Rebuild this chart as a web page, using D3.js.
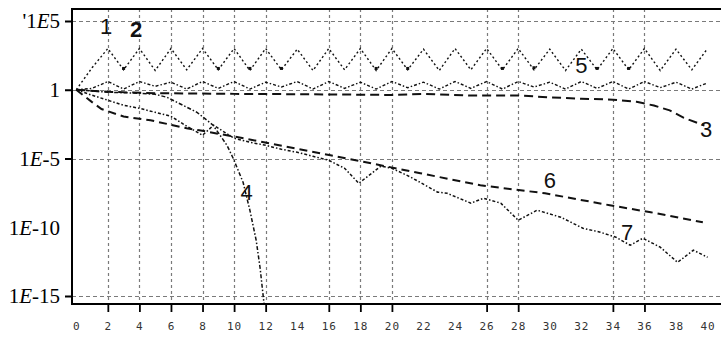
<!DOCTYPE html>
<html><head><meta charset="utf-8">
<script src="https://cdn.jsdelivr.net/npm/d3@7"></script>
<style>
body{margin:0;background:#fff}
svg{display:block}
</style>
</head><body>
<svg id="chart" width="721" height="338"></svg>
<script>
// ---------------- data ----------------
const xTickLabels = [0,2,4,6,8,10,12,14,16,18,20,22,24,26,28,30,32,34,36,38,40];
const xGridTicks  = [2,4,6,8,10,12,16,18,20,26,28,34,36];
const yTickValues = [1e5, 1, 1e-5, 1e-10, 1e-15];
const yTickLabels = ["'1E5", "1", "1E-5", "1E-10", "1E-15"];
const yGridTicks  = [1e5, 1, 1e-5, 1e-15];

// series: x (step) and log10 of value
const zigX   = [0,1,2,3,4,5,6,7,8,9,10,11,12,13,14,15,16,17,18,19,20,21,22,23,24,25,26,27,28,29,30,31,32,33,34,35,36,37,38,39,40];
const zigExp = [0,1.6,3.0,1.45,3.0,1.4,3.0,1.45,3.0,1.45,3.0,1.4,3.0,1.45,2.95,1.4,3.0,1.45,3.0,1.4,3.0,1.45,2.95,1.4,3.0,1.45,3.0,1.45,3.0,1.45,2.95,1.4,2.95,1.45,3.0,1.45,3.0,1.4,2.95,1.45,3.0];
const markX   = [3,9,11,13,19,21,27,29,33,35];
const markExp = [1.55,1.55,1.55,1.55,1.55,1.55,1.55,1.6,1.55,1.55];

const c2X   = zigX;
const c2Exp = [0,0.1,0.6,0.05,0.6,0.25,0.55,0.05,0.6,0.1,0.6,0.05,0.55,0.2,0.6,0.05,0.6,0.1,0.55,0.05,0.6,0.15,0.55,0.05,0.6,0.1,0.6,0.05,0.6,0.2,0.55,0.05,0.6,0.1,0.6,0.05,0.6,0.15,0.55,0.05,0.5];

const c3X   = [0,2,5,10,15,20,22,25,28,30,32,34,35.5,36.6,37.6,38.5,39.8];
const c3Exp = [0,-0.15,-0.25,-0.3,-0.33,-0.38,-0.3,-0.42,-0.42,-0.55,-0.65,-0.72,-0.88,-1.15,-1.5,-2.05,-2.6];

const c4X   = [0,2,3.9,5,5.75,7.65,8.67,9.55,9.94,10.57,11.0,11.4,11.65,11.9];
const c4Exp = [0,-0.18,-0.25,-0.33,-0.55,-1.64,-2.58,-4.04,-4.98,-6.73,-8.76,-10.95,-12.98,-15.6];

const c6X   = [0,1,1.6,3,4.7,7,7.8,10.6,16.1,21.8,25.6,29.7,33.8,36.4,39.7];
const c6Exp = [0,-0.9,-1.4,-1.95,-2.22,-2.8,-2.95,-3.53,-4.76,-6.07,-6.95,-7.53,-8.4,-8.91,-9.64];

const c7X   = [0,1,2,3,4,5,6,7,8,8.7,10,11,12,13,14,15,16,17,17.9,19.3,20,21.2,22.9,23.5,25,25.8,26.9,28,29.2,30.7,32.1,33.2,34.2,35.1,35.9,37,38.1,39.1,40];
const c7Exp = [0,-0.4,-0.76,-1.13,-1.35,-1.64,-1.93,-2.65,-3.31,-2.58,-3.53,-3.82,-4.04,-4.33,-4.55,-4.84,-5.13,-5.71,-6.8,-5.56,-5.71,-6.36,-7.45,-7.53,-8.25,-7.89,-8.25,-9.49,-8.76,-9.27,-10.07,-10.36,-10.73,-11.31,-10.8,-11.45,-12.55,-11.67,-12.18];

const curveLabels = [
  {t:"1", x:1.9,  e:4.05, bold:false},
  {t:"2", x:3.8,  e:3.85, bold:true},
  {t:"5", x:32.0, e:1.2,  bold:false},
  {t:"3", x:39.9, e:-3.4, bold:false},
  {t:"4", x:10.8, e:-8.05,bold:false},
  {t:"6", x:30.0, e:-7.15,bold:false},
  {t:"7", x:34.9, e:-10.95,bold:false}
];

// ---------------- chart ----------------
const svg = d3.select("#chart");
const L = 72, R = 721, T = 9, B = 304;
const x = d3.scaleLinear().domain([-0.27, 40.85]).range([L, R]);
const y = d3.scaleLog().domain([1e-15, 1e5]).range([296, 21]);

svg.append("defs").append("clipPath").attr("id","clip")
  .append("rect").attr("x",L).attr("y",T).attr("width",R-L).attr("height",B-T);

// grid
const grid = svg.append("g").attr("stroke","#7a7a7a").attr("stroke-width",1.2).attr("fill","none");
grid.selectAll("line.gx").data(xGridTicks).join("line")
  .attr("x1",d=>Math.round(x(d))+0.5).attr("x2",d=>Math.round(x(d))+0.5)
  .attr("y1",T).attr("y2",B).attr("stroke-dasharray","3,3");
grid.selectAll("line.gy").data(yGridTicks).join("line")
  .attr("x1",L).attr("x2",R)
  .attr("y1",d=>Math.round(y(d))+0.5).attr("y2",d=>Math.round(y(d))+0.5)
  .attr("stroke-dasharray","4,3");

// curves
const plot = svg.append("g").attr("clip-path","url(#clip)");
const line = d3.line().x(d=>x(d[0])).y(d=>y(Math.pow(10,d[1])));
function series(xs, es){ return xs.map((v,i)=>[v, es[i]]); }
function draw(xs, es, dash, w){
  plot.append("path").datum(series(xs,es)).attr("d",line)
    .attr("fill","none").attr("stroke","#111").attr("stroke-width",w)
    .attr("stroke-dasharray",dash);
}
draw(zigX, zigExp, "2,2.5", 1.4);
draw(c2X, c2Exp, "3,2,1.5,2", 1.4);
draw(c3X, c3Exp, "9,5", 2);
draw(c4X, c4Exp, "4,2,1.5,2", 1.5);
draw(c6X, c6Exp, "8,5", 2);
draw(c7X, c7Exp, "3,2,1.5,2", 1.5);

plot.selectAll("rect.mk").data(series(markX, markExp)).join("rect")
  .attr("x",d=>x(d[0])-1.5).attr("y",d=>y(Math.pow(10,d[1]))-1.5)
  .attr("width",3).attr("height",3).attr("fill","#111");

// curve labels
svg.selectAll("text.cl").data(curveLabels).join("text")
  .attr("x",d=>x(d.x)).attr("y",d=>y(Math.pow(10,d.e)))
  .attr("text-anchor","middle")
  .attr("font-family","Liberation Sans, Arial, sans-serif")
  .attr("font-size",22).attr("font-weight",d=>d.bold?"bold":"normal")
  .attr("fill","#111").text(d=>d.t);

// frame
const frame = svg.append("g").attr("stroke","#000").attr("stroke-width",2);
frame.append("line").attr("x1",L).attr("x2",L).attr("y1",T-1).attr("y2",B+1);
frame.append("line").attr("x1",L).attr("x2",R).attr("y1",T).attr("y2",T);
frame.append("line").attr("x1",L).attr("x2",R).attr("y1",B).attr("y2",B);

// y tick marks
const yAx = svg.append("g").attr("transform",`translate(${L},0)`)
  .call(d3.axisLeft(y).tickValues(yGridTicks).tickSize(7).tickFormat(""));
yAx.select(".domain").remove();
yAx.selectAll(".tick line").attr("stroke","#000").attr("stroke-width",2);

// y labels
const yl = svg.append("g").attr("font-family","Liberation Serif, Times New Roman, serif")
  .attr("font-size",21).attr("fill","#000");
yTickValues.forEach((v,i)=>{
  const lab = yTickLabels[i];
  const t = yl.append("text").attr("x",60).attr("y",y(v)).attr("dy","0.35em").attr("text-anchor","end");
  const k = lab.indexOf("E");
  if(k<0){ t.text(lab); }
  else {
    t.append("tspan").text(lab.slice(0,k));
    t.append("tspan").attr("font-style","italic").text("E");
    t.append("tspan").text(lab.slice(k+1));
  }
});

// x tick marks
const xAx = svg.append("g").attr("transform",`translate(0,${B})`)
  .call(d3.axisBottom(x).tickValues(xGridTicks).tickSize(8).tickFormat(""));
xAx.select(".domain").remove();
xAx.selectAll(".tick line").attr("stroke","#000").attr("stroke-width",1.8);

// x labels
const xl = svg.append("g").attr("transform",`translate(0,${B})`)
  .call(d3.axisBottom(x).tickValues(xTickLabels).tickSize(0).tickPadding(18).tickFormat(d3.format("d")));
xl.select(".domain").remove();
xl.selectAll(".tick text").attr("font-family","DejaVu Sans Mono, monospace")
  .attr("font-size",11).attr("fill","#333").attr("letter-spacing","1px");
</script>
</body></html>
